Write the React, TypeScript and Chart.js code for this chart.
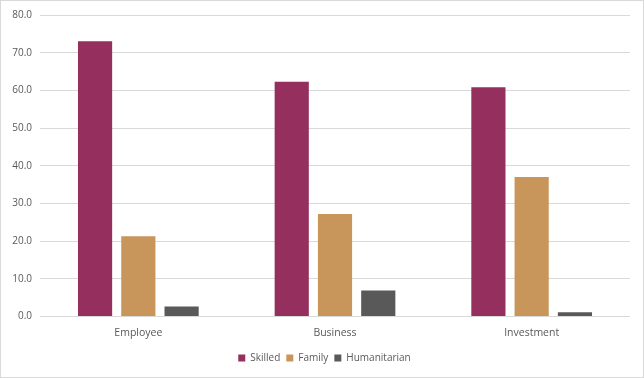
import React, { useEffect, useRef } from "react";
import { Chart, registerables } from "chart.js";

Chart.register(...registerables);

const categories = ["Employee", "Business", "Investment"];
const skilled = [73.0, 62.3, 60.8];
const family = [21.3, 27.2, 37.0];
const humanitarian = [2.6, 6.9, 1.1];
const yTicks = [0, 10, 20, 30, 40, 50, 60, 70, 80];

const shiftLegend = {
  id: "shiftLegend",
  afterLayout(chart: any) {
    if (chart.legend) {
      chart.legend.left += 9;
      chart.legend.right += 9;
    }
  },
};

export default function App() {
  const ref = useRef<HTMLCanvasElement | null>(null);
  useEffect(() => {
    document.body.style.margin = "0";
    const font = { family: "'Open Sans', 'Liberation Sans', sans-serif", size: 10 };
    const xFont = { family: "'Open Sans', 'Liberation Sans', sans-serif", size: 10.5 };
    const chart = new Chart(ref.current!, {
      type: "bar",
      data: {
        labels: categories,
        datasets: [
          { label: "Skilled", data: skilled, backgroundColor: "#952F5E" },
          { label: "Family", data: family, backgroundColor: "#C8965A" },
          { label: "Humanitarian", data: humanitarian, backgroundColor: "#595959" },
        ],
      },
      plugins: [shiftLegend],
      options: {
        animation: false,
        responsive: false,
        maintainAspectRatio: false,
        datasets: { bar: { categoryPercentage: 0.66, barPercentage: 0.79 } },
        layout: { padding: { top: 8, right: 13, left: 0, bottom: 4 } },
        plugins: {
          tooltip: { enabled: false },
          legend: {
            position: "bottom",
            labels: {
              boxWidth: 7,
              boxHeight: 7,
              color: "#595959",
              font,
              padding: 6,
            },
          },
        },
        scales: {
          x: {
            grid: { display: false, drawTicks: false },
            border: { display: false },
            ticks: { color: "#595959", font: xFont, padding: 10 },
            afterFit: (s: any) => {
              s.height = s.height - 2;
            },
          },
          y: {
            min: 0,
            max: 80,
            afterBuildTicks: (s: any) => {
              s.ticks = yTicks.map((v) => ({ value: v }));
            },
            afterFit: (s: any) => {
              s.width = 39;
            },
            grid: { color: "#d9d9d9", drawTicks: false },
            border: { display: false },
            ticks: {
              color: "#595959",
              font,
              padding: 8,
              callback: (v: any) => Number(v).toFixed(1),
            },
          },
        },
      },
    });
    return () => chart.destroy();
  }, []);
  return (
    <div
      style={{
        position: "absolute",
        left: 0,
        top: 0,
        width: 642,
        height: 376,
        border: "1px solid #d9d9d9",
        background: "#fff",
      }}
    >
      <canvas ref={ref} width={642} height={376} style={{ display: "block" }} />
    </div>
  );
}
